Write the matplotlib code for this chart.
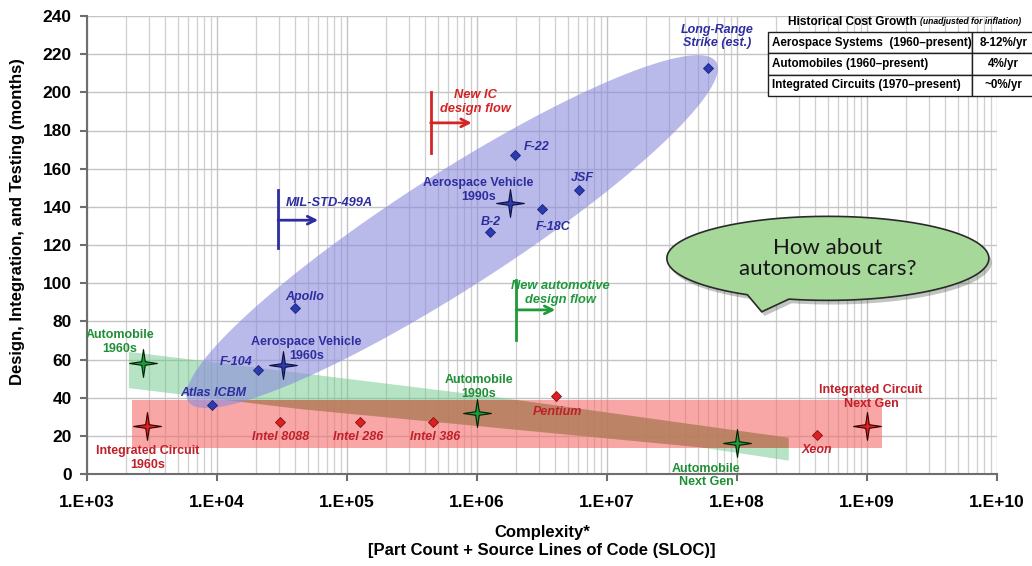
"""
complexity vs development time chart
"""

import numpy as np
import matplotlib
matplotlib.use("Agg")
import matplotlib.pyplot as plt
import matplotlib.patheffects as pe
from matplotlib.path import Path
from matplotlib.patches import Rectangle, FancyArrowPatch
from matplotlib.ticker import FixedLocator, FuncFormatter, NullFormatter

plt.rcParams['font.family'] = ['Liberation Sans', 'DejaVu Sans']

# aerospace programs (diamonds)
aero_names = ["Atlas ICBM", "F-104", "Apollo", "B-2", "F-22", "F-18C", "JSF",
              "Long-Range\nStrike (est.)"]
aero_x = [9.1e3, 2.06e4, 4.0e4, 1.26e6, 1.95e6, 3.16e6, 6.1e6, 6.0e7]
aero_y = [36, 54.5, 87, 127, 167, 139, 149, 212.5]
aero_off = [(2, 12), (-22, 8), (9, 11), (1, 10), (22, 8), (11, -18), (3, 12), (9, 32)]

# aerospace vehicle generations (stars)
aero_gen_names = ["Aerospace Vehicle\n1960s", "Aerospace Vehicle\n1990s"]
aero_gen_x = [3.2e4, 1.8e6]
aero_gen_y = [57, 142]
aero_gen_off = [(24, 16), (-32, 13)]

# integrated circuits (diamonds)
ic_names = ["Intel 8088", "Intel 286", "Intel 386", "Pentium", "Xeon"]
ic_x = [3.06e4, 1.26e5, 4.6e5, 4.07e6, 4.1e8]
ic_y = [27, 27, 27, 41, 20.5]
ic_off = [(0, -15), (-2, -15), (2, -15), (1, -16), (0, -15)]

# integrated circuit generations (stars)
ic_gen_names = ["Integrated Circuit\n1960s", "Integrated Circuit\nNext Gen"]
ic_gen_x = [2.9e3, 1.0e9]
ic_gen_y = [25, 25]
ic_gen_off = [(1, -32), (4, 29)]

# automobile generations (stars)
auto_names = ["Automobile\n1960s", "Automobile\n1990s", "Automobile\nNext Gen"]
auto_x = [2.7e3, 1.0e6, 1.0e8]
auto_y = [58, 32, 16]
auto_off = [(-23, 21), (2, 26), (-31, -32)]

# trend bands
blue_ends = [(6.0e3, 38), (6.9e7, 216)]
green_upper = [(2.1e3, 64), (1.5e6, 40), (2.5e8, 19)]
green_lower = [(2.1e3, 45), (4.4e4, 34), (5.2e7, 14), (2.5e8, 7)]
red_x = [2.2e3, 1.3e9]
red_y = [13.5, 39]

# design flow markers: x, y-range, arrow y, arrow end x, label pos, label
flows = [
    (2.95e4, (118.5, 149), 133, 6.0e4, (3.4e4, 142), "MIL-STD-499A", "#2d2da0", "left"),
    (4.4e5, (168, 200), 184, 9.1e5, (9.8e5, 195), "New IC\ndesign flow", "#d42424", "center"),
    (2.0e6, (70, 101.7), 86, 4.0e6, (4.4e6, 95), "New automotive\ndesign flow", "#1f9a3a", "center"),
]

x_ticks = [1e3, 1e4, 1e5, 1e6, 1e7, 1e8, 1e9, 1e10]
y_ticks = list(range(0, 241, 20))

table_rows = [["Aerospace Systems  (1960\u2013present)", "8-12%/yr"],
              ["Automobiles (1960\u2013present)", "4%/yr"],
              ["Integrated Circuits (1970\u2013present)", "~0%/yr"]]

BLUE_TXT, BLUE_MK = "#2d2da0", "#2b3cae"
RED_TXT, RED_MK = "#c0202a", "#e02020"
GREEN_TXT, GREEN_MK = "#1f8f35", "#1f9a40"

s = 0.13
star4 = Path([(0, 1), (s, s), (1, 0), (s, -s), (0, -1), (-s, -s), (-1, 0), (-s, s), (0, 1)],
             [Path.MOVETO] + [Path.LINETO] * 7 + [Path.CLOSEPOLY])


def label_points(ax, names, xs, ys, offs, color, style):
    for n, x, y, (dx, dy) in zip(names, xs, ys, offs):
        ax.annotate(n, (x, y), xytext=(dx, dy), textcoords="offset pixels",
                    ha="center", va="center", color=color, fontsize=9,
                    fontweight="bold", fontstyle=style, linespacing=1.2, zorder=6)


def ellipse_band(ax, p0, p1, half_w, **kw):
    (x0, y0), (x1, y1) = ax.transData.transform([p0, p1])
    cx, cy = (x0 + x1) / 2, (y0 + y1) / 2
    a = np.hypot(x1 - x0, y1 - y0) / 2
    ang = np.arctan2(y1 - y0, x1 - x0)
    t = np.linspace(0, 2 * np.pi, 300)
    ex = cx + a * np.cos(t) * np.cos(ang) - half_w * np.sin(t) * np.sin(ang)
    ey = cy + a * np.cos(t) * np.sin(ang) + half_w * np.sin(t) * np.cos(ang)
    pts = ax.transData.inverted().transform(np.column_stack([ex, ey]))
    return ax.fill(pts[:, 0], pts[:, 1], **kw)


fig = plt.figure(figsize=(10.32, 5.66), dpi=100)
ax = fig.add_axes([87 / 1032, 92 / 566, 910 / 1032, 458 / 566])
ax.set_xscale("log")
ax.set_xlim(1e3, 1e10)
ax.set_ylim(0, 240)

# grid
ax.set_axisbelow(True)
minor = [m * d for d in x_ticks[:-1] for m in range(2, 10)]
ax.xaxis.set_major_locator(FixedLocator(x_ticks))
ax.xaxis.set_minor_locator(FixedLocator(minor))
ax.xaxis.set_minor_formatter(NullFormatter())
ax.xaxis.set_major_formatter(FuncFormatter(lambda v, p: "1.E+%02d" % round(np.log10(v))))
ax.yaxis.set_major_locator(FixedLocator(y_ticks))
ax.grid(which="major", color="#c4c4c4", lw=1.0)
ax.grid(which="minor", axis="x", color="#cfcfcf", lw=0.9)
for sp in ["top", "right"]:
    ax.spines[sp].set_visible(False)
for sp in ["left", "bottom"]:
    ax.spines[sp].set_color("#6e6e6e")
    ax.spines[sp].set_linewidth(1.5)
ax.tick_params(which="major", length=5, width=1.5, color="#6e6e6e", labelsize=12.5)
ax.tick_params(axis="x", which="major", pad=10)
ax.tick_params(axis="y", which="major", pad=6)
ax.tick_params(which="minor", length=0)
for lab in ax.get_xticklabels() + ax.get_yticklabels():
    lab.set_fontweight("bold")

# bands
ux, uy = zip(*green_upper)
lx, ly = zip(*green_lower)
gx = list(ux) + list(lx[::-1])
gy = list(uy) + list(ly[::-1])
ax.fill(gx, gy, color="#6cc88a", alpha=0.5, lw=0, zorder=1)
red_rect = Rectangle((red_x[0], red_y[0]), red_x[1] - red_x[0], red_y[1] - red_y[0],
                     facecolor="#f47070", alpha=0.62, lw=0, zorder=1.1)
ax.add_patch(red_rect)
overlap = ax.fill(gx, gy, color="#a8744a", alpha=0.6, lw=0, zorder=1.2)[0]
overlap.set_clip_path(red_rect)
ellipse_band(ax, blue_ends[0], blue_ends[1], 57, color="#8c8cdc", alpha=0.6, lw=0, zorder=1.3)

# points
ax.plot(aero_x, aero_y, "D", ms=5.5, color=BLUE_MK, mec="#1a2080", mew=0.6, zorder=5)
ax.plot(ic_x, ic_y, "D", ms=5.5, color=RED_MK, mec="#801010", mew=0.6, zorder=5)
ax.plot(aero_gen_x, aero_gen_y, marker=star4, ls="none", ms=20, color=BLUE_MK, mec="#101040", mew=0.8, zorder=5)
ax.plot(ic_gen_x, ic_gen_y, marker=star4, ls="none", ms=20, color=RED_MK, mec="#300000", mew=0.8, zorder=5)
ax.plot(auto_x, auto_y, marker=star4, ls="none", ms=20, color=GREEN_MK, mec="#002000", mew=0.8, zorder=5)

label_points(ax, aero_names, aero_x, aero_y, aero_off, BLUE_TXT, "italic")
label_points(ax, aero_gen_names, aero_gen_x, aero_gen_y, aero_gen_off, BLUE_TXT, "normal")
label_points(ax, ic_names, ic_x, ic_y, ic_off, RED_TXT, "italic")
label_points(ax, ic_gen_names, ic_gen_x, ic_gen_y, ic_gen_off, RED_TXT, "normal")
label_points(ax, auto_names, auto_x, auto_y, auto_off, GREEN_TXT, "normal")

# design flow markers
for fx, (y0, y1), ay, ax_end, (tx, ty), txt, col, ha in flows:
    ax.plot([fx, fx], [y0, y1], color=col, lw=2, zorder=4)
    ax.add_patch(FancyArrowPatch((fx, ay), (ax_end, ay), arrowstyle="->", color=col, lw=2,
                                 mutation_scale=14, shrinkA=0, shrinkB=0, zorder=4))
    ax.text(tx, ty, txt, color=col, ha=ha, va="center", fontsize=9.3, fontweight="bold",
            fontstyle="italic", linespacing=1.2, zorder=6)

# speech bubble
(bcx, bcy), (tipx, tipy) = ax.transData.transform([(5.0e8, 113), (1.55e8, 85)])
ba, bb = 161, 42
t = np.radians(np.linspace(256, 600, 200))
bx = np.append(bcx + ba * np.cos(t), tipx)
by = np.append(bcy + bb * np.sin(t), tipy)
bpts = ax.transData.inverted().transform(np.column_stack([bx, by]))
bubble = ax.fill(bpts[:, 0], bpts[:, 1], facecolor="#a6d89a", edgecolor="#2a2a2a", lw=1.2, zorder=7)[0]
bubble.set_path_effects([pe.SimplePatchShadow(offset=(2, -3), alpha=0.3), pe.Normal()])
ax.text(5.0e8, 113, "How about\nautonomous cars?", ha="center", va="center", fontsize=16,
        family=["Lato", "DejaVu Sans"], color="#161616", linespacing=1.1, zorder=8)

# cost growth table
tbl = ax.table(cellText=table_rows, colWidths=[0.764, 0.236], cellLoc="left",
               bbox=[0.748, 0.825, 0.294, 0.14])
tbl.auto_set_font_size(False)
tbl.set_zorder(9)
for (r, c), cell in tbl.get_celld().items():
    cell.set_facecolor("white")
    cell.set_edgecolor("#202020")
    cell.set_linewidth(1.0)
    cell.PAD = 0.02
    cell.get_text().set_fontsize(8.4)
    cell.get_text().set_fontweight("bold")
    if c == 1:
        cell.get_text().set_ha("center")
        cell._loc = "center"
fig.text(917 / 1032, 1 - 22 / 566, "Historical Cost Growth", ha="right", va="center",
         fontsize=8.6, fontweight="bold")
fig.text(920 / 1032, 1 - 22 / 566, "(unadjusted for inflation)", ha="left", va="center",
         fontsize=6.2, fontstyle="italic", fontweight="bold")

# axis labels
ax.set_xlabel("Complexity*\n[Part Count + Source Lines of Code (SLOC)]", fontsize=12,
              fontweight="bold", labelpad=11, linespacing=1.2)
fig.text(18 / 1032, 1 - 222 / 566, "Design, Integration, and Testing (months)", rotation=90,
         ha="center", va="center", fontsize=12, fontweight="bold")

plt.savefig("out.png", dpi=100)
